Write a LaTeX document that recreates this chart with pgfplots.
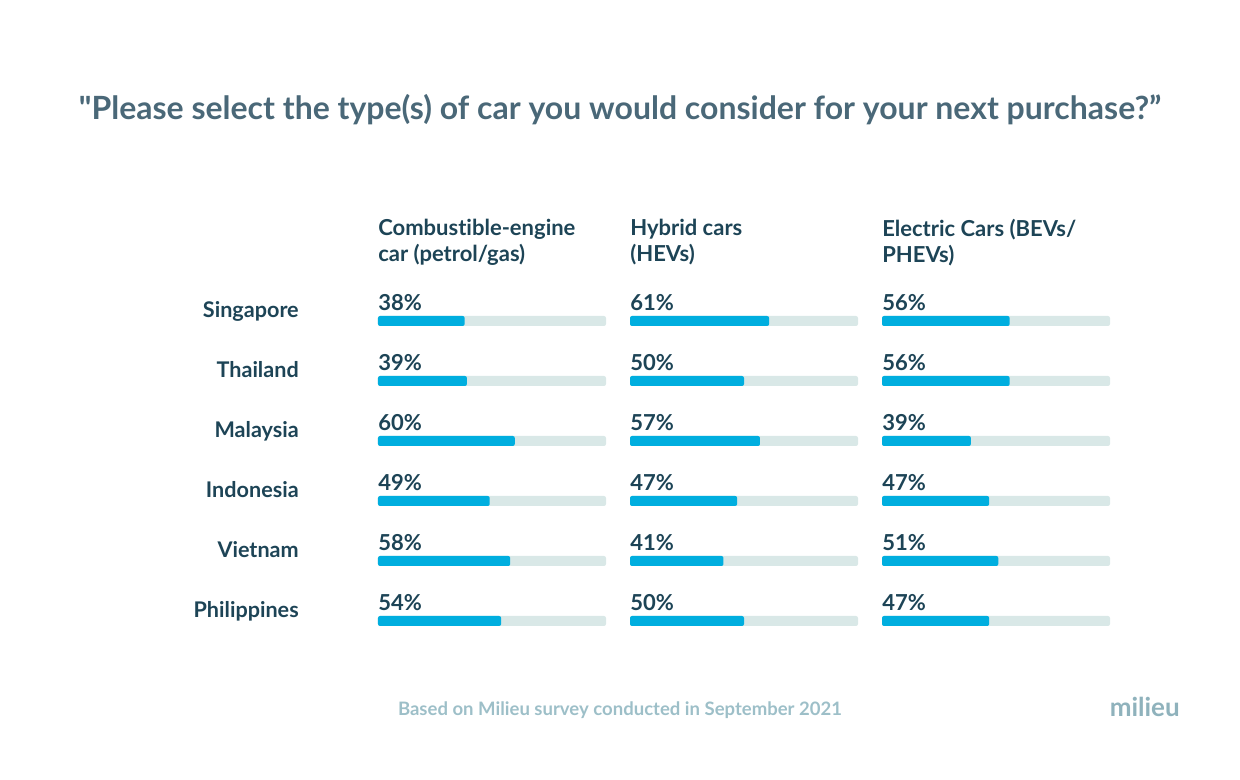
\documentclass[border=0pt]{standalone}
\usepackage{pgfplots}
\pgfplotsset{compat=1.18}
\usepackage{pgfplotstable}
\usepackage{fontspec}
\setmainfont{Lato}[Ligatures={TeX,NoCommon}]
\newfontfamily\titlefont{Lato}[Ligatures=NoCommon]
\definecolor{barblue}{HTML}{00AEDF}
\definecolor{track}{HTML}{D9E8E7}
\definecolor{dark}{HTML}{1D4456}
\definecolor{titlec}{HTML}{4A6878}
\definecolor{foot}{HTML}{9DBFC8}
\definecolor{logo}{HTML}{8FB2BC}

\pgfplotstableread{
row v
0 38
1 39
2 60
3 49
4 58
5 54
}\colA
\pgfplotstableread{
row v
0 61
1 50
2 57
3 47
4 41
5 50
}\colB
\pgfplotstableread{
row v
0 56
1 56
2 39
3 47
4 51
5 47
}\colC

\pgfplotsset{
  col/.style={
    anchor=north west,
    width=171pt, height=270pt, scale only axis,
    xmin=0, xmax=100, ymin=-0.5, ymax=5.5, y dir=reverse,
    axis line style={draw=none}, tick style={draw=none},
    xtick=\empty, ytick=\empty, clip=false,
    title style={at={(0,1)}, anchor=north west, yshift=48pt, inner sep=0pt,
      align=left, font=\fontsize{16.5}{19.5}\selectfont\bfseries, text=dark},
  },
  trackbar/.style={xbar, bar width=7.5pt, bar shift=0pt, fill=track, draw=none, rounded corners=1.5pt},
  valbar/.style={xbar, bar width=7.5pt, bar shift=0pt, fill=barblue, draw=none, rounded corners=1.5pt},
  vlab/.style={draw=none, mark=none, point meta=explicit symbolic,
    nodes near coords={\pgfplotspointmeta\%},
    nodes near coords style={anchor=base west, inner sep=0pt, yshift=7.6pt,
      font=\fontsize{16.5}{19.5}\selectfont\bfseries, text=dark}},
}

\newcommand{\colplots}[1]{%
  \addplot[trackbar] coordinates {(100,0) (100,1) (100,2) (100,3) (100,4) (100,5)};
  \addplot[valbar] table[x=v, y=row] {#1};
  \addplot[vlab] table[x expr=0, y=row, meta=v] {#1};
}

\begin{document}
\begin{tikzpicture}
\path (0,0) rectangle (930pt,585pt);

\node[anchor=base, font=\titlefont\fontsize{24}{28}\selectfont\bfseries, text=titlec, inner sep=0pt]
  at (465pt,495pt) {"Please select the type(s) of car you would consider for your next purchase?”};

\begin{axis}[col, at={(283.5pt,366.75pt)},
  title={Combustible-engine\\car (petrol/gas)},
  ytick={0,1,2,3,4,5},
  yticklabels={Singapore,Thailand,Malaysia,Indonesia,Vietnam,Philippines},
  yticklabel style={anchor=base east, inner sep=0pt, xshift=-59.25pt, yshift=2.25pt,
    font=\fontsize{16.2}{19.5}\selectfont\bfseries, text=dark}]
\colplots{\colA}
\end{axis}

\begin{axis}[col, at={(472.5pt,366.75pt)}, title={Hybrid cars\\(HEVs)}]
\colplots{\colB}
\end{axis}

\begin{axis}[col, at={(661.5pt,366.75pt)}, title={Electric Cars (BEVs/\\PHEVs)}]
\colplots{\colC}
\end{axis}

\node[anchor=base, font=\fontsize{13.9}{16}\selectfont\bfseries, text=foot, inner sep=0pt]
  at (465pt,48pt) {Based on Milieu survey conducted in September 2021};
\node[anchor=base east, font=\fontsize{19.5}{22}\selectfont\bfseries, text=logo, inner sep=0pt]
  at (885pt,47.25pt) {milieu};
\end{tikzpicture}
\end{document}
